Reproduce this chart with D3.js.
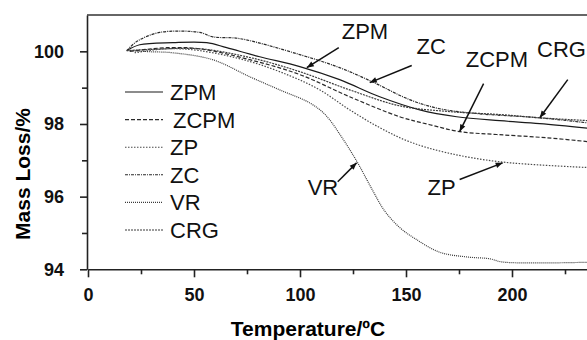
<!DOCTYPE html>
<html>
<head>
<meta charset="utf-8">
<script src="https://cdn.jsdelivr.net/npm/d3@7"></script>
<style>
body{margin:0;background:#fff;}
text{font-family:"Liberation Sans",Arial,sans-serif;}
</style>
</head>
<body>
<div id="container"></div>
<script>
let w = 587;
let h = 340;

// values: [temperature, mass loss %]
let zpm = [[18.3,100.02],[24.4,100.18],[40,100.24],[56,100.24],[65.4,100.1],[81,99.85],[99.9,99.58],[118.7,99.22],[137.6,98.75],[156.5,98.39],[173.9,98.2],[194.2,98.09],[213.1,98.01],[240,97.86]];
let zcpm = [[19.7,100],[37.1,100.1],[52.7,100.07],[76.3,99.77],[99.9,99.36],[123.4,98.75],[147,98.2],[161.2,97.98],[175.3,97.79],[192.8,97.71],[216.4,97.62],[240,97.49]];
let zp = [[22,99.96],[37.1,100.07],[52.7,100.02],[76.3,99.72],[95.1,99.33],[109.3,98.94],[123.4,98.39],[137.6,97.9],[151.7,97.51],[169.2,97.21],[194.2,96.96],[240,96.79]];
let zc = [[18.3,100.02],[23,100.27],[33.8,100.52],[52.7,100.52],[58.8,100.4],[71.6,100.35],[99.9,99.91],[118.7,99.55],[133.8,99.17],[151.7,98.67],[165.9,98.42],[184.8,98.28],[213.1,98.17],[240,98]];
let crg = [[18.3,100.02],[29.1,100.05],[52.7,100.07],[76.3,99.83],[99.9,99.44],[123.4,98.94],[147,98.5],[170.6,98.34],[194.2,98.26],[213.1,98.17],[240,98.08]];
let vr = [[18.3,100.02],[29.1,99.99],[40,99.96],[58.8,99.77],[76.3,99.3],[90.4,98.94],[104.6,98.58],[112,98.25],[120.1,97.6],[127.2,96.93],[134,96.2],[140,95.6],[147,95.15],[154.1,94.85],[165.9,94.47],[178.6,94.34],[189.5,94.29],[195.6,94.2],[240,94.2]];

let seriesNames = ["ZPM","ZCPM","ZP","ZC","VR","CRG"];
let seriesValues = [zpm, zcpm, zp, zc, vr, crg];

let xTicks = [0,50,100,150,200];
let xMinor = [25,75,125,175,225];
let yTicks = [94,96,98,100];
let yMinor = [95,97,99];

// arrow labels: name, label anchor, arrow tail, arrow tip (data units)
let arrowNames = ["ZPM","ZC","ZCPM","CRG","VR","ZP"];
let arrowLabel = [[119.7,100.35],[155,99.94],[178.2,99.58],[211.8,99.85],[103.6,96.05],[160.2,96.05]];
let arrowTail = [[118.3,100.1],[152.7,99.61],[186.6,99.11],[226.3,99.22],[117.8,96.41],[175.3,96.47]];
let arrowTip = [[103.2,99.55],[132.9,99.14],[175.3,97.79],[213.1,98.17],[126.7,96.93],[195.6,96.93]];

// line looks
let dashes = {"ZPM":null,"ZCPM":"4,2","ZP":"1.5,1.5","ZC":"3,1,1,1","VR":"1,1","CRG":"2,1"};
let strokes = {"ZPM":"#1a1a1a","ZCPM":"#2a2a2a","ZP":"#4a4a4a","ZC":"#2a2a2a","VR":"#3a3a3a","CRG":"#3a3a3a"};

let viz = d3.select("#container")
  .append("svg")
    .attr("width", w)
    .attr("height", h)
    .style("display","block")
    .style("background-color","white");

let xScale = d3.scaleLinear().domain([0,250]).range([88,618]);
let yScale = d3.scaleLinear().domain([94,101]).range([269.3,15]);

viz.append("defs").append("clipPath").attr("id","plotclip")
  .append("rect")
    .attr("x",xScale(0)-1).attr("y",yScale(101))
    .attr("width",xScale(250)-xScale(0)).attr("height",yScale(94)-yScale(101));

viz.select("defs").append("marker")
  .attr("id","head")
  .attr("viewBox","0 -5 10 10")
  .attr("refX",10).attr("refY",0)
  .attr("markerWidth",10).attr("markerHeight",7)
  .attr("markerUnits","userSpaceOnUse")
  .attr("orient","auto")
  .append("path").attr("d","M0,-4L10,0L0,4Z").attr("fill","#111");

// axes
let yAxis = d3.axisLeft(yScale).tickValues(yTicks).tickSize(7).tickSizeOuter(0).tickPadding(16).tickFormat(d3.format("d"));
let yAxisMinor = d3.axisLeft(yScale).tickValues(yMinor).tickSize(5).tickFormat("");
let xAxis = d3.axisBottom(xScale).tickValues(xTicks).tickSize(8).tickSizeOuter(0).tickPadding(11).tickFormat(d3.format("d"));
let xAxisMinor = d3.axisBottom(xScale).tickValues(xMinor).tickSize(5).tickFormat("");

viz.append("g").attr("transform","translate("+(xScale(0)-1)+",0)").call(yAxis);
viz.append("g").attr("transform","translate("+(xScale(0)-1)+",0)").call(yAxisMinor).select(".domain").remove();
viz.append("g").attr("transform","translate(0,"+yScale(94)+")").call(xAxis);
viz.append("g").attr("transform","translate(0,"+yScale(94)+")").call(xAxisMinor).select(".domain").remove();

viz.selectAll(".domain, .tick line").attr("stroke","#222").attr("stroke-width",1.6);
viz.selectAll(".tick text")
  .attr("fill","#111")
  .style("font-size","18px")
  .style("font-weight","bold")
  .style("font-family","'Liberation Sans',Arial,sans-serif");

// top frame line
viz.append("line")
  .attr("x1",xScale(0)-1).attr("x2",xScale(250))
  .attr("y1",yScale(101)).attr("y2",yScale(101))
  .attr("stroke","#333").attr("stroke-width",1.6);

// axis titles
viz.append("text")
  .text("Mass Loss/%")
  .attr("transform","translate(30,174) rotate(-90)")
  .attr("text-anchor","middle")
  .style("font-size","21px").style("font-weight","bold");

viz.append("text")
  .text("Temperature/ºC")
  .attr("x",308).attr("y",336)
  .attr("text-anchor","middle")
  .style("font-size","21px").style("font-weight","bold");

// curves
let lineMaker = d3.line()
  .x(function(d){ return xScale(d[0]); })
  .y(function(d){ return yScale(d[1]); })
  .curve(d3.curveCatmullRom.alpha(0.5));

viz.append("g").attr("clip-path","url(#plotclip)")
  .selectAll(".curve").data(seriesValues).enter()
  .append("path")
    .attr("class","curve")
    .attr("d",lineMaker)
    .attr("fill","none")
    .attr("stroke",function(d,i){ return strokes[seriesNames[i]]; })
    .attr("stroke-width",1.2)
    .attr("stroke-dasharray",function(d,i){ return dashes[seriesNames[i]]; });

// legend
let legend = viz.selectAll(".legend").data(seriesNames).enter()
  .append("g")
    .attr("class","legend")
    .attr("transform",function(d,i){ return "translate(125,"+(92+i*27.6)+")"; });

legend.append("line")
  .attr("x1",0).attr("x2",38)
  .attr("stroke",function(d){ return strokes[d]; })
  .attr("stroke-width",1.1)
  .attr("stroke-dasharray",function(d){ return dashes[d]; });

legend.append("text")
  .text(function(d){ return d; })
  .attr("x",function(d){ return d=="ZCPM" ? 48 : 45; })
  .attr("dy","0.36em")
  .attr("fill","#111")
  .style("font-size","22px");

// arrows + labels
viz.selectAll(".arrow").data(arrowNames).enter()
  .append("line")
    .attr("class","arrow")
    .attr("x1",function(d,i){ return xScale(arrowTail[i][0]); })
    .attr("y1",function(d,i){ return yScale(arrowTail[i][1]); })
    .attr("x2",function(d,i){ return xScale(arrowTip[i][0]); })
    .attr("y2",function(d,i){ return yScale(arrowTip[i][1]); })
    .attr("stroke","#111")
    .attr("stroke-width",1.5)
    .attr("marker-end","url(#head)");

viz.selectAll(".alabel").data(arrowNames).enter()
  .append("text")
    .attr("class","alabel")
    .text(function(d){ return d; })
    .attr("x",function(d,i){ return xScale(arrowLabel[i][0]); })
    .attr("y",function(d,i){ return yScale(arrowLabel[i][1]); })
    .attr("fill","#111")
    .style("font-size","22px");
</script>
</body>
</html>
